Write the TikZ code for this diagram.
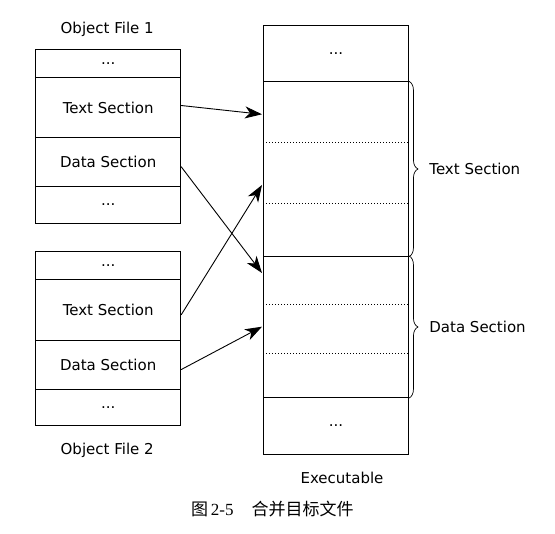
\documentclass[tikz,border=0pt]{standalone}
\usepackage{fontspec}
\setmainfont{DejaVu Sans}
\newfontfamily\cjk{Noto Sans CJK SC}
\newfontfamily\capserif{Liberation Serif}
\usetikzlibrary{arrows.meta,decorations.pathreplacing}
\begin{document}
\begin{tikzpicture}[x=1pt,y=-1pt,line width=0.9pt,
    sec/.style={draw,minimum width=145pt,inner sep=0pt,font=\fontsize{15}{17}\selectfont},
    lbl/.style={inner sep=0pt,font=\fontsize{15}{17}\selectfont},
    arr/.style={->,>={Stealth[length=17pt,width=12pt,inset=5pt]}},
    sep/.style={dash pattern=on 1pt off 2pt,line width=0.7pt},
    brc/.style={decorate,decoration={brace,amplitude=9pt},line width=0.7pt}]
    \useasboundingbox (0,0) rectangle (555,534);
    % object file 1
    \node[lbl](f1) at (107.2,29){Object File 1};
    \node[sec,minimum height=28pt](o1a) at (108.2,63.3){...};
    \node[sec,minimum height=60.4pt](o1t) at (108.2,107.5){Text Section};
    \node[sec,minimum height=49pt](o1d) at (108.2,162.2){Data Section};
    \node[sec,minimum height=36.6pt](o1b) at (108.2,205){...};
    % object file 2
    \node[sec,minimum height=28pt](o2a) at (108.2,265.7){...};
    \node[sec,minimum height=60.4pt](o2t) at (108.2,309.9){Text Section};
    \node[sec,minimum height=49pt](o2d) at (108.2,364.6){Data Section};
    \node[sec,minimum height=36.6pt](o2b) at (108.2,407.4){...};
    \node[lbl](f2) at (107.2,450){Object File 2};
    % executable
    \node[sec,minimum height=56pt](e0) at (336,53.7){...};
    \node[sec,minimum height=174.6pt](et) at (336,169){};
    \node[sec,minimum height=141.4pt](ed) at (336,327){};
    \node[sec,minimum height=56.3pt](eb) at (336,425.85){...};
    \node[lbl](ex) at (342,478){Executable};
    \draw[sep](263.3,142.7)--(408.7,142.7);
    \draw[sep](263.3,203.7)--(408.7,203.7);
    \draw[sep](263.3,304.3)--(408.7,304.3);
    \draw[sep](263.3,353.7)--(408.7,353.7);
    \draw[brc](et.north east)--(et.south east);
    \draw[brc](ed.north east)--(ed.south east);
    \node[lbl,anchor=west](lt) at ([xshift=20pt]et.east){Text Section};
    \node[lbl,anchor=west](ld) at ([xshift=20pt]ed.east){Data Section};
    % arrows
    \coordinate(p1) at (262,114.3);
    \coordinate(p2) at (262,273);
    \coordinate(p3) at (262,185);
    \coordinate(p4) at (262,326.7);
    \draw[arr]([yshift=2pt]o1t.east)--(p1);
    \draw[arr]([yshift=-4.5pt]o1d.east)--(p2);
    \draw[arr]([yshift=-5pt]o2t.east)--(p3);
    \draw[arr]([yshift=-5pt]o2d.east)--(p4);
    % caption
    \node[inner sep=0pt,anchor=west](cap) at (190.7,509){\fontsize{17}{20}\selectfont\cjk 图\,\capserif 2-5\hspace{18pt}\cjk 合并目标文件};
\end{tikzpicture}
\end{document}
